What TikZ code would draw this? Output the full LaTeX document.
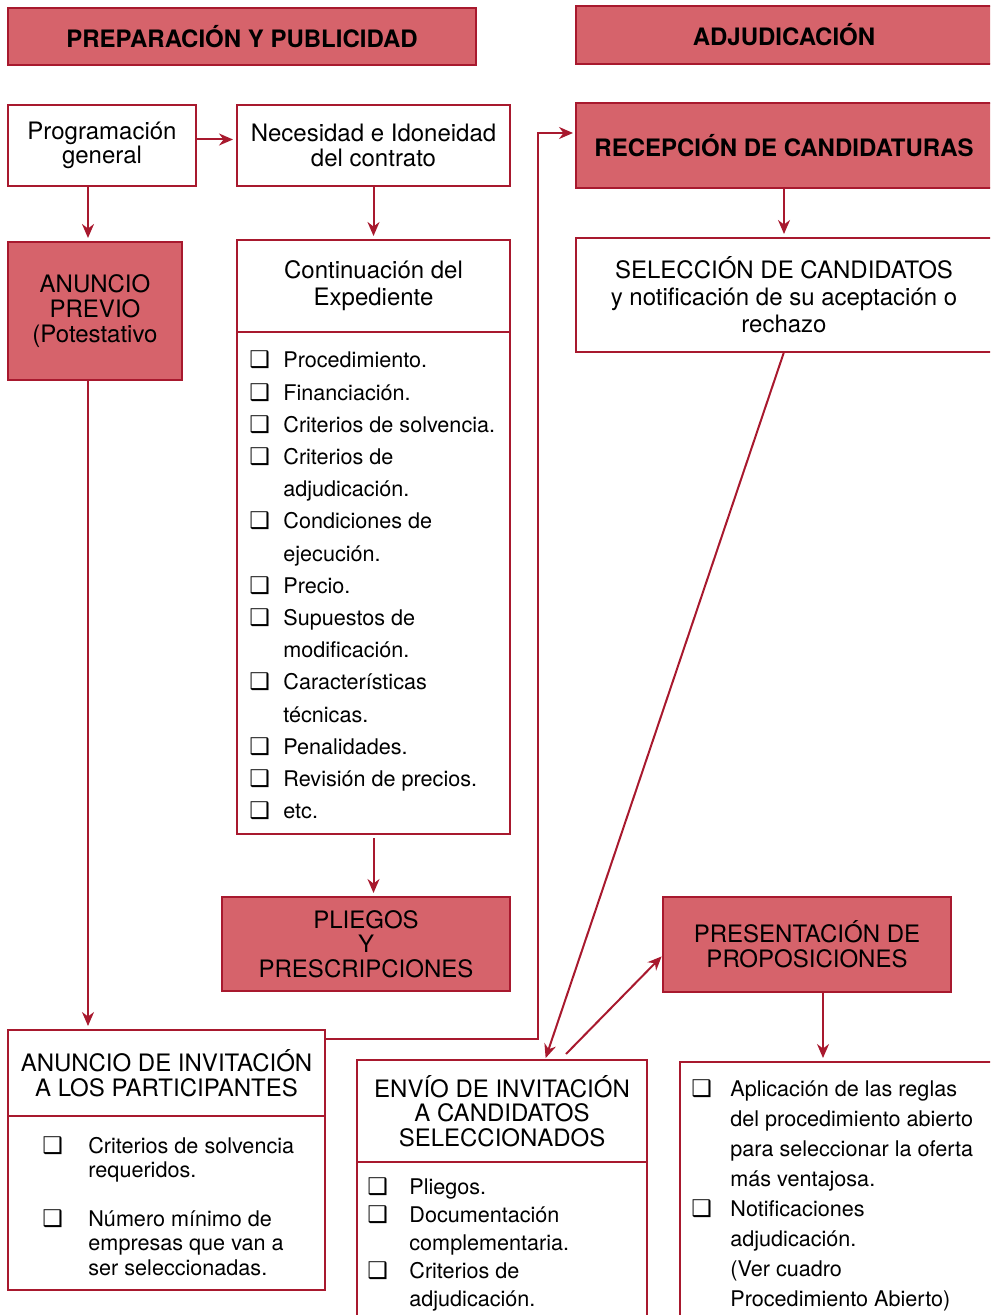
\documentclass[tikz,border=0pt]{standalone}
\usepackage{fontspec}
\setmainfont{TeX Gyre Heros}
\newfontfamily\dejavu{DejaVu Sans}
\usetikzlibrary{arrows.meta}
\usetikzlibrary{positioning}
\definecolor{boxfill}{HTML}{D6636B}
\definecolor{boxline}{HTML}{A8192E}
\newcommand{\chk}{{\dejavu\bfseries\fontsize{11.5}{11.5}\selectfont ❑}}

\begin{document}
\begin{tikzpicture}[x=0.5pt,y=-0.5pt,
   redbox/.style={draw=boxline,line width=1pt,fill=boxfill,inner sep=0pt,outer sep=0pt,align=center,
      anchor=north west,font=\fontsize{12}{12.3}\selectfont},
   whitebox/.style={redbox,fill=white},
   head/.style={redbox,font=\bfseries\fontsize{12}{12.3}\selectfont},
   listtext/.style={inner sep=0pt,anchor=base west},
   arr/.style={draw=boxline,line width=1pt,-{Stealth[length=7pt,width=6pt]},shorten >=2pt}]
   \useasboundingbox (0,0) rectangle (990,1315);
   \clip (0,0) rectangle (990,1315);

   \node[head,minimum width=234pt,minimum height=28.5pt] (prep) at (8,8) {PREPARACIÓN Y PUBLICIDAD};
   \node[head,minimum width=208pt,minimum height=29pt] (adj) at (576,6) {ADJUDICACIÓN};

   \node[whitebox,minimum width=94pt,minimum height=40.5pt] (prog) at (8,105) {Programación\\general};
   \node[whitebox,minimum width=136.5pt,minimum height=40.5pt] (nec) at (237,105) {Necesidad e Idoneidad\\del contrato};
   \node[head,minimum width=208pt,minimum height=42.5pt] (recep) at (576,103) {RECEPCIÓN DE CANDIDATURAS};

   \node[redbox,minimum width=87pt,minimum height=69pt] (previo) at (8,242) {ANUNCIO\\PREVIO\\(Potestativo};
   \node[whitebox,minimum width=136.5pt,minimum height=46pt,font=\fontsize{12}{13.5}\selectfont] (conttitle) at (237,240)
      {Continuación del\\Expediente};
   \node[whitebox,below=0pt of conttitle,minimum width=136.5pt,minimum height=251pt] (contbody) {};
   \node[listtext,font=\fontsize{10.8}{16.1}\selectfont] (contlist) at (249,368) {%
      \begin{tabular}[t]{@{}p{17pt}@{}l@{}}
      \chk & Procedimiento.\\
      \chk & Financiación.\\
      \chk & Criterios de solvencia.\\
      \chk & Criterios de\\
           & adjudicación.\\
      \chk & Condiciones de\\
           & ejecución.\\
      \chk & Precio.\\
      \chk & Supuestos de\\
           & modificación.\\
      \chk & Características\\
           & técnicas.\\
      \chk & Penalidades.\\
      \chk & Revisión de precios.\\
      \chk & etc.
      \end{tabular}};
   \node[whitebox,minimum width=208pt,minimum height=57pt,font=\fontsize{12}{13.5}\selectfont] (selec) at (576,238)
      {SELECCIÓN DE CANDIDATOS\\y notificación de su aceptación o\\rechazo};

   \node[redbox,minimum width=144pt,minimum height=47pt] (pliegos) at (222,897) {PLIEGOS\\Y\\PRESCRIPCIONES};
   \node[redbox,minimum width=144pt,minimum height=47.5pt] (pres) at (663,897) {PRESENTACIÓN DE\\PROPOSICIONES};

   \node[whitebox,minimum width=158.5pt,minimum height=43pt] (invittitle) at (8,1030)
      {ANUNCIO DE INVITACIÓN\\A LOS PARTICIPANTES};
   \node[whitebox,below=0pt of invittitle,minimum width=158.5pt,minimum height=87pt] (invitbody) {};
   \node[listtext,font=\fontsize{10.8}{12.2}\selectfont] (invitlist) at (42,1153) {%
      \begin{tabular}[t]{@{}p{23pt}@{}l@{}}
      \chk & Criterios de solvencia\\
           & requeridos.\\[12.3pt]
      \chk & Número mínimo de\\
           & empresas que van a\\
           & ser seleccionadas.
      \end{tabular}};

   \node[whitebox,minimum width=145pt,minimum height=51pt] (envititle) at (357,1060)
      {ENVÍO DE INVITACIÓN\\A CANDIDATOS\\SELECCIONADOS};
   \node[whitebox,below=0pt of envititle,minimum width=145pt,minimum height=84pt] (envibody) {};
   \node[listtext,font=\fontsize{10.8}{14}\selectfont] (envilist) at (367,1194) {%
      \begin{tabular}[t]{@{}p{21pt}@{}l@{}}
      \chk & Pliegos.\\
      \chk & Documentación\\
           & complementaria.\\
      \chk & Criterios de\\
           & adjudicación.
      \end{tabular}};

   \node[whitebox,minimum width=160pt,minimum height=134pt] (rbox) at (680,1062) {};
   \node[listtext,font=\fontsize{10.8}{15.07}\selectfont] (rlist) at (691,1096) {%
      \begin{tabular}[t]{@{}p{19.5pt}@{}l@{}}
      \chk & Aplicación de las reglas\\
           & del procedimiento abierto\\
           & para seleccionar la oferta\\
           & más ventajosa.\\
      \chk & Notificaciones\\
           & adjudicación.\\
           & (Ver cuadro\\
           & Procedimiento Abierto)
      \end{tabular}};

   \draw[arr] ([yshift=3pt]prog.east) -- ([yshift=3pt]nec.west);
   \draw[arr] ([xshift=-7pt]prog.south) -- ([xshift=-7pt]prog.south |- previo.north);
   \draw[arr] (nec.south) -- (nec.south |- conttitle.north);
   \draw[arr,shorten <=2pt] (contbody.south) -- (contbody.south |- pliegos.north);
   \draw[arr] ([xshift=-3.5pt]previo.south) -- ([xshift=-3.5pt]previo.south |- invittitle.north);
   \draw[arr,shorten >=1.5pt] ([yshift=-4.25pt]invittitle.north east) -| ([xshift=-19pt,yshift=6.25pt]recep.west)
      -- ([yshift=6.25pt]recep.west);
   \draw[arr] (recep.south) -- (selec.north);
   \draw[arr,shorten >=1pt] (selec.south) -- ([xshift=21.5pt]envititle.north);
   \draw[arr,shorten >=1pt] ([xshift=32pt,yshift=3pt]envititle.north) -- ([yshift=-5.25pt]pres.west);
   \draw[arr] ([xshift=8pt]pres.south) -- ([xshift=8pt]pres.south |- rbox.north);
\end{tikzpicture}
\end{document}
